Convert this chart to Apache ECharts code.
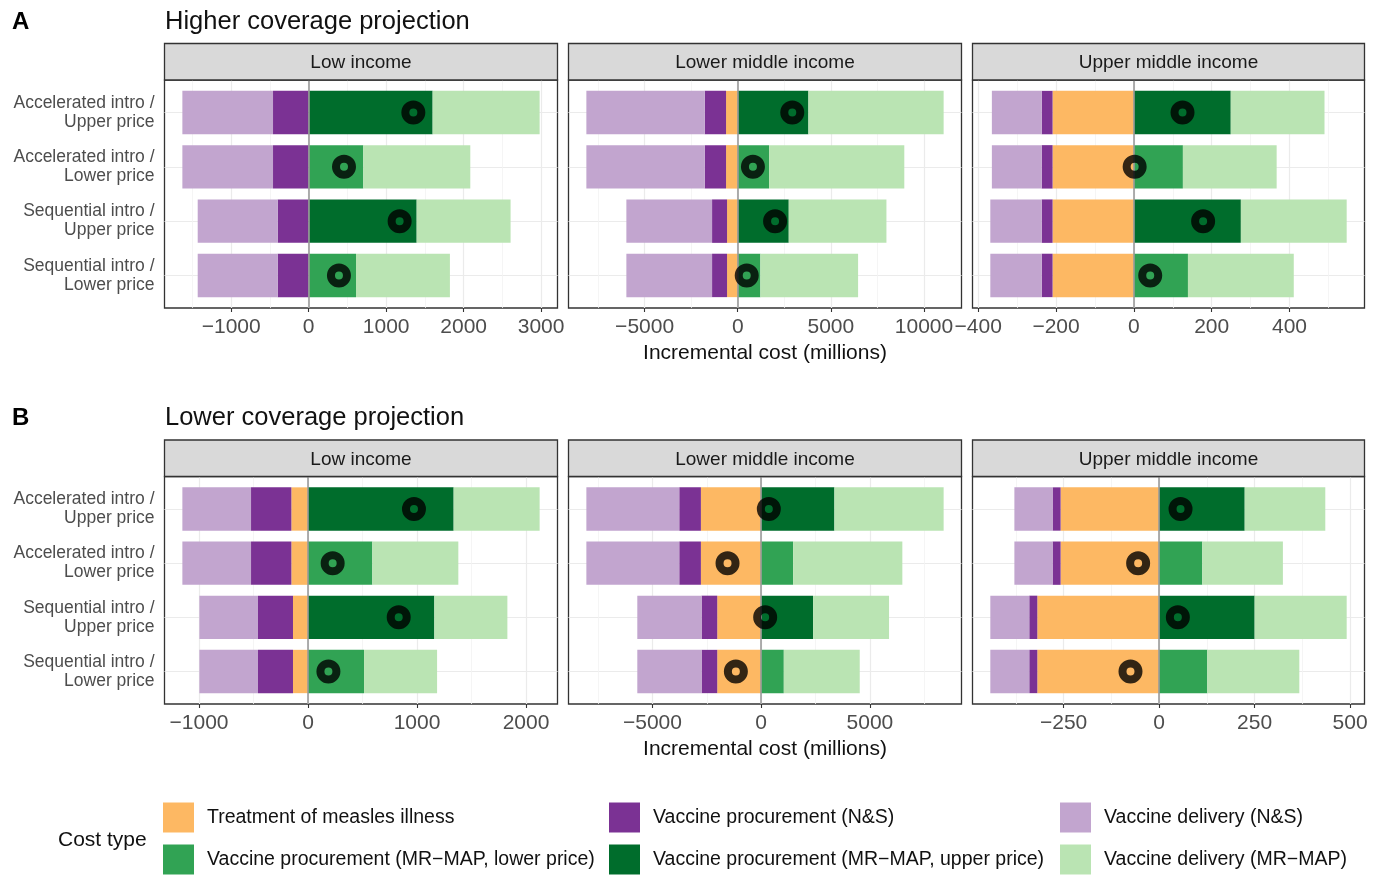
<!DOCTYPE html>
<html><head><meta charset="utf-8">
<script src="https://cdn.jsdelivr.net/npm/echarts@6/dist/echarts.min.js"></script>
<style>html,body{margin:0;padding:0;background:#fff}#c{width:1384px;height:875px}</style>
</head><body><div id="c"></div>
<script>
// ---------- DATA ----------
const rowLabels = ['Accelerated intro /\nUpper price', 'Accelerated intro /\nLower price',
                   'Sequential intro /\nUpper price', 'Sequential intro /\nLower price'];
const incomeGroups = ['Low income', 'Lower middle income', 'Upper middle income'];
const projectionTitles = ['Higher coverage projection', 'Lower coverage projection'];
const projectionTags = ['A', 'B'];
const costTypes = ['Treatment of measles illness', 'Vaccine procurement (N&S)', 'Vaccine delivery (N&S)',
                   'Vaccine procurement (MR\u2212MAP, lower price)', 'Vaccine procurement (MR\u2212MAP, upper price)',
                   'Vaccine delivery (MR\u2212MAP)'];

// Higher coverage projection: [Low, Lower middle, Upper middle] x rows
const treatmentHigher = [[0, 0, 0, 0], [-627, -627, -573, -573], [-209, -209, -209, -209]];
const procNSHigher    = [[-460, -460, -400, -400], [-1145, -1145, -805, -805], [-28, -28, -28, -28]];
const delivNSHigher   = [[-1170, -1170, -1032, -1032], [-6355, -6355, -4601, -4601], [-128, -128, -132, -132]];
const procLowHigher   = [[null, 705, null, 611], [null, 1683, null, 1217], [null, 126, null, 139]];
const procUpHigher    = [[1600, null, 1394, null], [3795, null, 2739, null], [249, null, 275, null]];
const delivMAPHigher  = [[1381, 1381, 1212, 1212], [7260, 7260, 5245, 5245], [241, 241, 272, 272]];

// Lower coverage projection
const treatmentLower = [[-153, -153, -138, -138], [-2772, -2772, -2021, -2021], [-258, -258, -319, -319]];
const procNSLower    = [[-370, -370, -321, -321], [-995, -995, -720, -720], [-21, -21, -21, -21]];
const delivNSLower   = [[-630, -630, -538, -538], [-4273, -4273, -2956, -2956], [-100, -100, -102, -102]];
const procLowLower   = [[null, 590, null, 514], [null, 1470, null, 1041], [null, 113, null, 126]];
const procUpLower    = [[1336, null, 1159, null], [3369, null, 2389, null], [224, null, 250, null]];
const delivMAPLower  = [[789, 789, 670, 670], [5023, 5023, 3492, 3492], [211, 211, 241, 241]];

// Tick labels per panel
const majorTicksHigher = [[-1000, 0, 1000, 2000, 3000], [-5000, 0, 5000, 10000], [-400, -200, 0, 200, 400]];
const minorTicksHigher = [[-1500, -500, 500, 1500, 2500], [-7500, -2500, 2500, 7500], [-300, -100, 100, 300, 500]];
const majorTicksLower  = [[-1000, 0, 1000, 2000], [-5000, 0, 5000], [-250, 0, 250, 500]];
const minorTicksLower  = [[-500, 500, 1500], [-7500, -2500, 2500, 7500], [-375, -125, 125, 375]];

// ---------- STYLE / LAYOUT ----------
const colors = ['#fdb863', '#7b3294', '#c2a5cf', '#31a354', '#006d2c', '#bae4b3'];
const FONT = '"Liberation Sans", Arial, Helvetica, sans-serif';
const colLeft = [164.5, 568.5, 972.5];
const colW = [393, 393, 392];
const rowTop = [80, 476.5];
const rowH = [228, 227.5];
const stripH = 36.5;
const fmt = v => String(v).replace('-', '\u2212');

const projections = [
  { data: [treatmentHigher, procNSHigher, delivNSHigher, procLowHigher, procUpHigher, delivMAPHigher],
    majors: majorTicksHigher, minors: minorTicksHigher },
  { data: [treatmentLower, procNSLower, delivNSLower, procLowLower, procUpLower, delivMAPLower],
    majors: majorTicksLower, minors: minorTicksLower }
];

const grid = [], xAxis = [], yAxis = [], series = [], graphic = [];

projections.forEach((proj, r) => {
  graphic.push({ type: 'text', left: 12, top: rowTop[r] - 70, style: { text: projectionTags[r], font: 'bold 24px ' + FONT, fill: '#000' } });
  graphic.push({ type: 'text', left: 165, top: rowTop[r] - 71.5, style: { text: projectionTitles[r], font: '25.5px ' + FONT, fill: '#111' } });
  incomeGroups.forEach((inc, c) => {
    const L = colLeft[c], W = colW[c], T = rowTop[r], H = rowH[r];
    const vals = proj.data.map(arr => arr[c]);
    const totals = rowLabels.map((_, i) => vals.reduce((s, a) => s + (a[i] == null ? 0 : a[i]), 0));
    const negs = rowLabels.map((_, i) => vals.reduce((s, a) => s + (a[i] != null && a[i] < 0 ? a[i] : 0), 0));
    const poss = rowLabels.map((_, i) => vals.reduce((s, a) => s + (a[i] != null && a[i] > 0 ? a[i] : 0), 0));
    const lo = Math.min(0, ...negs), hi = Math.max(0, ...poss);
    const span = hi - lo;
    const xmin = lo - 0.05 * span, xmax = hi + 0.05 * span;

    // strip
    graphic.push({ type: 'rect', shape: { x: L, y: T - stripH, width: W, height: stripH },
      style: { fill: '#d9d9d9', stroke: '#333', lineWidth: 1.3 }, z: 10 });
    graphic.push({ type: 'text', z: 11, style: { x: L + W / 2, y: T - stripH / 2 + 1.5, text: inc,
      font: '19px ' + FONT, fill: '#1a1a1a', align: 'center', verticalAlign: 'middle' } });

    // frame grid
    const fg = grid.length;
    grid.push({ left: L, top: T, width: W, height: H, show: true, borderColor: '#333', borderWidth: 1.3, backgroundColor: 'transparent' });
    const fx = xAxis.length;
    xAxis.push({ gridIndex: fg, type: 'value', min: xmin, max: xmax, position: 'bottom',
      axisLine: { show: false },
      axisTick: { show: true, length: 4, lineStyle: { color: '#333', width: 1.1 }, customValues: proj.majors[c] },
      axisLabel: { customValues: proj.majors[c], formatter: fmt, fontSize: 21, color: '#4d4d4d', margin: 9, fontFamily: FONT },
      splitLine: { show: true, lineStyle: { color: '#ebebeb', width: 1.2 } },
      name: c === 1 ? 'Incremental cost (millions)' : '', nameLocation: 'middle', nameGap: 35,
      nameTextStyle: { fontSize: 21, color: '#111', fontFamily: FONT } });
    xAxis.push({ gridIndex: fg, type: 'value', min: xmin, max: xmax, position: 'top',
      axisLine: { show: false }, axisTick: { show: false, customValues: proj.minors[c] },
      axisLabel: { show: false, customValues: proj.minors[c] },
      splitLine: { show: true, lineStyle: { color: '#f3f3f3', width: 0.8 } } });
    const fy = yAxis.length;
    yAxis.push({ gridIndex: fg, type: 'value', min: 0, max: 1, show: false });

    // bar grid (ggplot discrete expansion 0.6 each side)
    const u = H / 4.2;
    const bg = grid.length;
    grid.push({ left: L, top: T + 0.1 * u, width: W, height: 4 * u, show: false });
    const bx = xAxis.length;
    xAxis.push({ gridIndex: bg, type: 'value', min: xmin, max: xmax, show: false });
    const by = yAxis.length;
    yAxis.push({ gridIndex: bg, type: 'category', data: rowLabels, inverse: true,
      axisLine: { show: false },
      axisTick: { show: c === 0, length: 4, alignWithLabel: true, lineStyle: { color: '#333', width: 1.1 } },
      axisLabel: { show: c === 0, interval: 0, fontSize: 17.5, lineHeight: 19, color: '#4d4d4d', align: 'right', margin: 10, fontFamily: FONT },
      splitLine: { show: true, alignWithLabel: true, lineStyle: { color: '#ebebeb', width: 1.2 } } });

    vals.forEach((arr, k) => {
      series.push({ type: 'bar', name: costTypes[k], xAxisIndex: bx, yAxisIndex: by, stack: 'st' + r + c,
        barWidth: '80%', data: arr.map(v => v == null ? '-' : v), itemStyle: { color: colors[k] },
        silent: true, animation: false, z: 2 });
    });
    // zero line
    series.push({ type: 'line', xAxisIndex: fx, yAxisIndex: fy, data: [], silent: true, animation: false, z: 4,
      markLine: { silent: true, symbol: ['none', 'none'], label: { show: false }, animation: false,
        lineStyle: { color: '#9a9a9a', width: 1.6, type: 'solid' }, data: [{ xAxis: 0 }] } });
    // net total rings
    series.push({ type: 'scatter', xAxisIndex: bx, yAxisIndex: by, data: totals.map((t, i) => [t, i]),
      symbol: 'circle', symbolSize: 16, itemStyle: { color: 'rgba(0,0,0,0)', borderColor: '#000', borderWidth: 8 },
      silent: true, animation: false, z: 6 });
  });
});

graphic.push({ type: 'text', left: 58, top: 830, style: { text: 'Cost type', font: '21px ' + FONT, fill: '#111' } });

const legendCommon = { orient: 'vertical', itemWidth: 31, itemHeight: 30, itemGap: 12, icon: 'rect', padding: 0,
  selectedMode: false, top: 802.5, textStyle: { fontSize: 19.5, color: '#111', fontFamily: FONT, padding: [0, 0, 0, 8] } };
const legend = [
  Object.assign({}, legendCommon, { left: 163, data: [costTypes[0], costTypes[3]] }),
  Object.assign({}, legendCommon, { left: 609, data: [costTypes[1], costTypes[4]] }),
  Object.assign({}, legendCommon, { left: 1060, data: [costTypes[2], costTypes[5]] })
];

const chart = echarts.init(document.getElementById('c'));
chart.setOption({ animation: false, backgroundColor: '#fff', textStyle: { fontFamily: FONT },
  grid, xAxis, yAxis, series, legend, graphic });
</script></body></html>
